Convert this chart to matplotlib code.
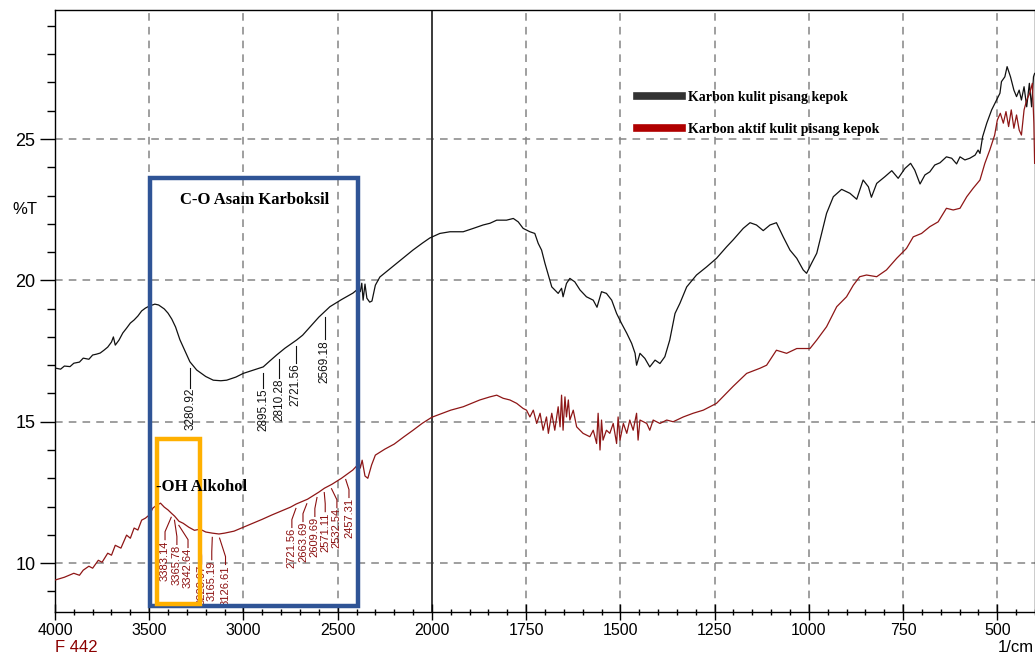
import numpy as np
import matplotlib
matplotlib.use('Agg')
import matplotlib.pyplot as plt
from matplotlib.patches import Rectangle
from matplotlib.ticker import FixedLocator

plt.rcParams['font.family'] = ['Liberation Sans', 'DejaVu Sans']

# Spektrum FTIR: Karbon kulit pisang kepok (hitam)
wn_hitam = [4000, 3970, 3950, 3920, 3900, 3870, 3850, 3820, 3800, 3780, 3760, 3740, 3720,
            3700, 3690, 3680, 3660, 3640, 3620, 3600, 3580, 3560, 3540, 3520, 3500, 3470,
            3450, 3420, 3400, 3380, 3360, 3337, 3310, 3284, 3248, 3200, 3160, 3120, 3089,
            3040, 3001, 2950, 2895, 2860, 2824, 2780, 2718, 2686, 2640, 2600, 2541, 2480,
            2419, 2395, 2380, 2372, 2365, 2355, 2345, 2330, 2318, 2300, 2276, 2230, 2186,
            2140, 2101, 2050, 2011, 1979, 1952, 1917, 1890, 1864, 1846, 1828, 1802, 1784,
            1771, 1758, 1740, 1727, 1718, 1709, 1700, 1691, 1682, 1674, 1665, 1656, 1652,
            1643, 1634, 1621, 1607, 1590, 1572, 1562, 1559, 1550, 1537, 1523, 1510, 1497,
            1483, 1470, 1461, 1457, 1448, 1435, 1422, 1408, 1395, 1382, 1369, 1355, 1342,
            1324, 1298, 1271, 1245, 1218, 1201, 1174, 1156, 1139, 1121, 1103, 1086, 1068,
            1050, 1032, 1015, 1006, 993, 979, 966, 953, 935, 913, 891, 873, 856, 842, 834,
            820, 798, 780, 763, 745, 730, 719, 705, 692, 679, 666, 652, 635, 621, 608, 599,
            586, 573, 559, 551, 546, 539, 528, 515, 502, 493, 489, 480, 474, 465, 456, 449,
            442, 436, 429, 422, 415, 409, 404, 401]
t_hitam = [16.90, 16.86, 16.97, 16.95, 17.07, 17.11, 17.25, 17.21, 17.36, 17.39, 17.43, 17.53, 17.64,
           17.82, 18.00, 17.71, 17.89, 18.14, 18.31, 18.49, 18.60, 18.74, 18.92, 19.02, 19.09, 19.16,
           19.13, 18.99, 18.84, 18.63, 18.35, 17.90, 17.50, 17.12, 16.83, 16.60, 16.47, 16.45, 16.47,
           16.58, 16.71, 16.82, 16.94, 17.15, 17.36, 17.60, 17.89, 18.06, 18.40, 18.70, 19.07, 19.32,
           19.55, 19.68, 19.60, 19.90, 19.30, 19.87, 19.37, 19.23, 19.27, 19.83, 20.12, 20.37, 20.61,
           20.86, 21.07, 21.32, 21.50, 21.66, 21.72, 21.72, 21.84, 21.96, 22.02, 22.13, 22.13, 22.19,
           22.07, 21.84, 21.72, 21.66, 21.31, 21.07, 20.60, 20.19, 19.77, 19.66, 19.54, 19.72, 19.42,
           19.89, 20.07, 19.95, 19.66, 19.42, 19.30, 19.05, 19.19, 19.60, 19.54, 19.30, 18.83, 18.48,
           18.13, 17.77, 17.42, 17.00, 17.42, 17.24, 16.94, 17.18, 17.06, 17.30, 17.89, 18.83, 19.19,
           19.77, 20.19, 20.48, 20.78, 21.19, 21.43, 21.84, 22.04, 21.96, 21.76, 21.96, 22.04, 21.54,
           21.07, 20.78, 20.37, 20.25, 20.60, 20.96, 21.66, 22.37, 22.96, 23.22, 23.08, 22.87, 23.55, 23.31, 22.94,
           23.43, 23.67, 23.88, 23.61, 23.96, 24.14, 23.90, 23.41, 23.73, 23.84, 24.08, 24.16, 24.37, 24.32, 24.12, 24.37,
           24.26, 24.32, 24.43, 24.61, 24.49, 25.08, 25.56, 26.03, 26.38, 26.62, 27.03, 27.20, 27.56, 27.20, 26.73, 26.50,
           26.73, 26.38, 26.85, 26.14, 26.97, 26.14, 27.20, 27.32]

# Spektrum FTIR: Karbon aktif kulit pisang kepok (merah)
wn_merah = [4000, 3950, 3900, 3870, 3850, 3820, 3800, 3770, 3750, 3720, 3700, 3680, 3650,
            3620, 3600, 3580, 3560, 3540, 3520, 3500, 3480, 3460, 3440, 3420, 3400, 3383,
            3365, 3342, 3320, 3290, 3260, 3230, 3200, 3165, 3130, 3100, 3050, 3000, 2950,
            2900, 2850, 2800, 2750, 2720, 2660, 2600, 2570, 2530, 2480, 2457, 2420, 2400,
            2390, 2380, 2370, 2355, 2340, 2320, 2300, 2250, 2200, 2150, 2100, 2050, 2000,
            1950, 1917, 1873, 1846, 1828, 1811, 1793, 1775, 1758, 1749, 1740, 1731, 1722,
            1713, 1705, 1696, 1691, 1682, 1674, 1665, 1660, 1656, 1652, 1647, 1643, 1638,
            1634, 1625, 1616, 1599, 1581, 1572, 1563, 1559, 1554, 1550, 1546, 1537, 1528,
            1519, 1510, 1506, 1501, 1492, 1483, 1475, 1466, 1457, 1453, 1448, 1430, 1422,
            1413, 1395, 1377, 1360, 1333, 1307, 1280, 1245, 1201, 1165, 1130, 1112, 1086,
            1059, 1032, 997, 979, 953, 926, 900, 882, 865, 847, 820, 794, 767, 741, 723,
            701, 679, 657, 635, 617, 599, 581, 564, 546, 533, 520, 507, 500, 492, 484, 477,
            470, 463, 456, 449, 442, 436, 429, 422, 414, 407, 403, 401]
t_merah = [9.40, 9.50, 9.64, 9.57, 9.75, 9.89, 9.82, 10.10, 10.03, 10.35, 10.28, 10.63, 10.53,
           10.99, 10.88, 11.24, 11.17, 11.52, 11.59, 11.70, 11.95, 12.05, 12.12, 11.98, 11.88, 11.77,
           11.66, 11.48, 11.41, 11.27, 11.16, 11.20, 11.10, 11.06, 11.03, 11.06, 11.13, 11.27, 11.41,
           11.55, 11.70, 11.84, 11.98, 12.09, 12.26, 12.51, 12.65, 12.79, 13.00, 13.11, 13.29, 13.43,
           13.71, 13.36, 13.64, 13.08, 13.00, 13.47, 13.82, 14.03, 14.21, 14.46, 14.70, 14.95, 15.16,
           15.41, 15.53, 15.77, 15.88, 15.94, 15.83, 15.77, 15.65, 15.47, 15.41, 15.17, 15.41, 14.94,
           15.30, 14.70, 15.17, 14.59, 15.30, 14.70, 15.53, 14.82, 15.94, 14.70, 15.88, 15.17, 15.77,
           15.06, 15.41, 14.82, 14.59, 14.47, 14.70, 14.23, 15.30, 14.00, 15.06, 14.35, 14.70, 14.59,
           14.94, 14.23, 15.17, 14.35, 14.94, 14.59, 15.06, 14.70, 15.30, 14.35, 15.06, 14.94, 14.70,
           15.06, 14.94, 15.06, 15.00, 15.17, 15.30, 15.41, 15.65, 16.25, 16.71, 16.89, 17.00, 17.53,
           17.42, 17.59, 17.59, 17.89, 18.36, 19.07, 19.42, 19.83, 20.13, 20.19, 20.13, 20.37, 20.78, 21.13, 21.54,
           21.66, 21.90, 22.07, 22.55, 22.49, 22.55, 22.96, 23.26, 23.55, 24.14, 24.61, 25.14, 25.67, 25.91, 25.56, 25.97,
           25.44, 26.03, 25.38, 25.85, 25.32, 25.14, 26.03, 26.38, 26.62, 26.97, 25.56, 24.14]

label_hitam = 'Karbon kulit pisang kepok'
label_merah = 'Karbon aktif kulit pisang kepok'

# puncak yang diberi label
puncak_hitam = [3280.92, 2895.15, 2810.28, 2721.56, 2569.18]
puncak_merah = [3383.14, 3365.78, 3342.64, 3228.97, 3165.19, 3126.61,
                2721.56, 2663.69, 2609.69, 2571.11, 2532.54, 2457.31]

# posisi teks label (tata letak)
teks_atas_hitam = [16.19, 16.19, 16.54, 17.07, 17.89]
teks_x_merah = [3416, 3353, 3294, 3222, 3168, 3095, 2743, 2684, 2621, 2566, 2504, 2440]
teks_atas_merah = [10.81, 10.64, 10.53, 9.95, 10.10, 9.93, 11.24, 11.45, 11.63, 11.80, 11.94, 12.30]

tick_x = [4000, 3500, 3000, 2500, 2000, 1750, 1500, 1250, 1000, 750, 500]


# skala sumbu x: di bawah 2000 1/cm skalanya dua kali lipat
def maju(x):
    x = np.asarray(x, dtype=float)
    return np.where(x > 2000, x, 2 * x - 2000)


def balik(u):
    u = np.asarray(u, dtype=float)
    return np.where(u > 2000, u, (u + 2000) / 2)


def main():
    fig = plt.figure(figsize=(10.35, 6.6), dpi=100)
    ax = fig.add_axes([0.0531, 0.0727, 0.9469, 0.912])
    ax.set_xscale('function', functions=(maju, balik))
    ax.set_xlim(4000, 400)
    ax.set_ylim(8.27, 29.56)

    # grid
    grid_kw = dict(color='#858585', lw=1.1, ls=(0, (5, 4)), zorder=1)
    for x in tick_x[1:]:
        if x != 2000:
            ax.axvline(x, **grid_kw)
    for y in [10, 15, 20, 25]:
        ax.axhline(y, **grid_kw)
    ax.axvline(2000, color='#3a3a3a', lw=1.4, zorder=1)

    ax.plot(wn_hitam, t_hitam, color='#111111', lw=0.9, label=label_hitam, zorder=3)
    ax.plot(wn_merah, t_merah, color='#8E1616', lw=0.9, label=label_merah, zorder=3)

    # sumbu
    ax.xaxis.set_major_locator(FixedLocator(tick_x))
    ax.xaxis.set_minor_locator(FixedLocator(list(range(4000, 2000, -100)) + list(range(2000, 399, -50))))
    ax.yaxis.set_major_locator(FixedLocator([10, 15, 20, 25]))
    ax.yaxis.set_minor_locator(FixedLocator(list(range(9, 30))))
    ax.tick_params(axis='x', which='major', direction='inout', length=12, width=1,
                   labelsize=11.5, pad=2)
    ax.tick_params(axis='x', which='minor', direction='inout', length=4.5, width=1)
    ax.tick_params(axis='y', which='major', direction='out', length=11, width=1,
                   labelsize=13, pad=3)
    ax.tick_params(axis='y', which='minor', direction='out', length=6, width=1)
    for s in ax.spines.values():
        s.set_linewidth(1.0)

    fig.text(12 / 1035, 1 - 210 / 660, '%T', fontsize=12, va='center')
    fig.text(55 / 1035, 1 - 648 / 660, 'F 442', fontsize=12, color='#8B0000', va='center')
    fig.text(1034 / 1035, 1 - 647 / 660, '1/cm', fontsize=12, ha='right', va='center')

    # label puncak hitam
    for p, atas in zip(puncak_hitam, teks_atas_hitam):
        yc = np.interp(p, wn_hitam[::-1], t_hitam[::-1])
        ax.plot([p, p], [yc - 0.2, atas + 0.02], color='#111111', lw=0.8, zorder=3)
        ax.text(p, atas, f'{p:.2f}', rotation=90, ha='center', va='top', fontsize=8.5,
                color='#111111', zorder=3)

    # label puncak merah
    for p, tx, atas in zip(puncak_merah, teks_x_merah, teks_atas_merah):
        yc = np.interp(p, wn_merah[::-1], t_merah[::-1])
        ax.plot([p, tx, tx], [yc - 0.15, atas + 0.3, atas + 0.02], color='#8B1010', lw=0.8, zorder=3)
        ax.text(tx, atas, f'{p:.2f}', rotation=90, ha='center', va='top', fontsize=8,
                color='#8B1010', zorder=3)

    # kotak anotasi
    ax.add_patch(Rectangle((3495, 8.49), 2393 - 3495, 23.63 - 8.49, fill=False,
                           edgecolor='#2F5496', lw=3.2, joinstyle='miter', zorder=6))
    ax.add_patch(Rectangle((3459, 8.55), 3231 - 3459, 14.4 - 8.55, fill=False,
                           edgecolor='#FFB000', lw=3.2, joinstyle='miter', zorder=7))
    serif = dict(family='Liberation Serif', weight='bold')
    ax.text(3337, 22.85, 'C-O Asam Karboksil', fontsize=12, va='center', zorder=8, **serif)
    ax.text(3462, 12.68, '-OH Alkohol', fontsize=12, va='center', zorder=8, **serif)

    leg = ax.legend(loc='upper left', bbox_to_anchor=(0.594, 0.866), frameon=False,
                    prop=dict(family='Liberation Serif', weight='bold', size=10),
                    handlelength=3.2, handletextpad=0.5, labelspacing=1.35,
                    borderpad=0, borderaxespad=0)
    for h, c in zip(leg.legend_handles, ['#333333', '#B00000']):
        h.set_linewidth(5.5)
        h.set_color(c)

    fig.savefig('out.png', dpi=100)


if __name__ == '__main__':
    main()
